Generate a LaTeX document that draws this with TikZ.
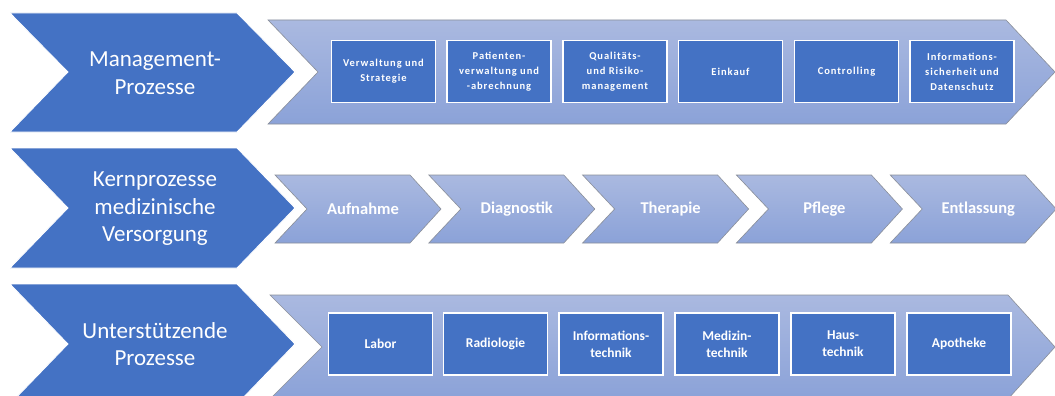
\documentclass[tikz,border=0pt]{standalone}
\usepackage{fontspec}
\setmainfont{Carlito}
\newfontfamily\spacedfont[LetterSpace=9]{Carlito}
\definecolor{dblue}{HTML}{4472C4}
\definecolor{ltop}{HTML}{AAB9E0}
\definecolor{lbot}{HTML}{8BA2D8}
\definecolor{edge}{HTML}{8A8F99}
\begin{document}
\begin{tikzpicture}[x=1pt,y=-1pt,
  lead/.style={fill=dblue,draw=white,line width=0.8pt},
  band/.style={top color=ltop,bottom color=lbot,draw=edge,line width=0.6pt},
  chev/.style={top color=ltop,bottom color=lbot,draw=edge,line width=0.6pt},
  leadtext/.style={text=white,font=\fontsize{23}{27.5}\selectfont,align=center},
  boxa/.style={fill=dblue,draw=white,line width=1.6pt,minimum width=104pt,minimum height=62pt,inner sep=1pt,text=white,font=\spacedfont\bfseries\fontsize{10.5}{15}\selectfont,align=center},
  boxc/.style={fill=dblue,draw=white,line width=1.6pt,minimum width=104pt,minimum height=62pt,inner sep=1pt,text=white,font=\bfseries\fontsize{13.5}{17}\selectfont,align=center},
  chevtext/.style={text=white,font=\bfseries\fontsize{16.5}{19}\selectfont}]
\useasboundingbox (0,0) rectangle (1055,396);
\fill[white] (0,0) rectangle (1055,396);
% left chevrons
\draw[lead] (10,13) -- (237,13) -- (295,72) -- (237,132) -- (10,132) -- (68,72) -- cycle;
\draw[lead] (10,148) -- (237,148) -- (295,208) -- (237,268) -- (10,268) -- (68,208) -- cycle;
\draw[lead] (10,284) -- (237,284) -- (295,344) -- (237,404) -- (10,404) -- (68,344) -- cycle;
\node[leadtext] (l1) at (155,73) {Management-\\Prozesse};
\node[leadtext] (l2) at (155,209) {Kernprozesse\\medizinische\\Versorgung};
\node[leadtext] (l3) at (155,344) {Unterstützende\\Prozesse};
% band row 1
\draw[band] (268,20) -- (1006,20) -- (1055,72) -- (1006,124) -- (268,124) -- (318,72) -- cycle;
\node[boxa] (a1) at (383.5,71.5) {Verwaltung und\\Strategie};
\node[boxa] (a2) at (499,71.5) {Patienten-\\verwaltung und\\-abrechnung};
\node[boxa] (a3) at (615,71.5) {Qualitäts-\\und Risiko-\\management};
\node[boxa] (a4) at (730.5,71.5) {Einkauf};
\node[boxa] (a5) at (846.5,71.5) {Controlling};
\node[boxa] (a6) at (962,71.5) {Informations-\\sicherheit und\\Datenschutz};
% row 2 chevrons
\foreach \i/\t in {0/Aufnahme,1/Diagnostik,2/Therapie,3/Pflege,4/Entlassung}{
  \pgfmathsetmacro{\xo}{275+153.8*\i}
  \draw[chev] (\xo,175) -- ({\xo+135},175) -- ({\xo+166},209) -- ({\xo+135},243) -- (\xo,243) -- ({\xo+32},209) -- cycle;
  \node[chevtext] (k\i) at ({\xo+88},209) {\t};
}
% band row 3
\draw[band] (270,295) -- (1008,295) -- (1055,347) -- (1008,399) -- (270,399) -- (322,347) -- cycle;
\node[boxc] (c1) at (380.5,344) {Labor};
\node[boxc] (c2) at (495.5,344) {Radiologie};
\node[boxc] (c3) at (611,344) {Informations-\\technik};
\node[boxc] (c4) at (727,344) {Medizin-\\technik};
\node[boxc] (c5) at (843,344) {Haus-\\technik};
\node[boxc] (c6) at (959,344) {Apotheke};
\end{tikzpicture}
\end{document}
